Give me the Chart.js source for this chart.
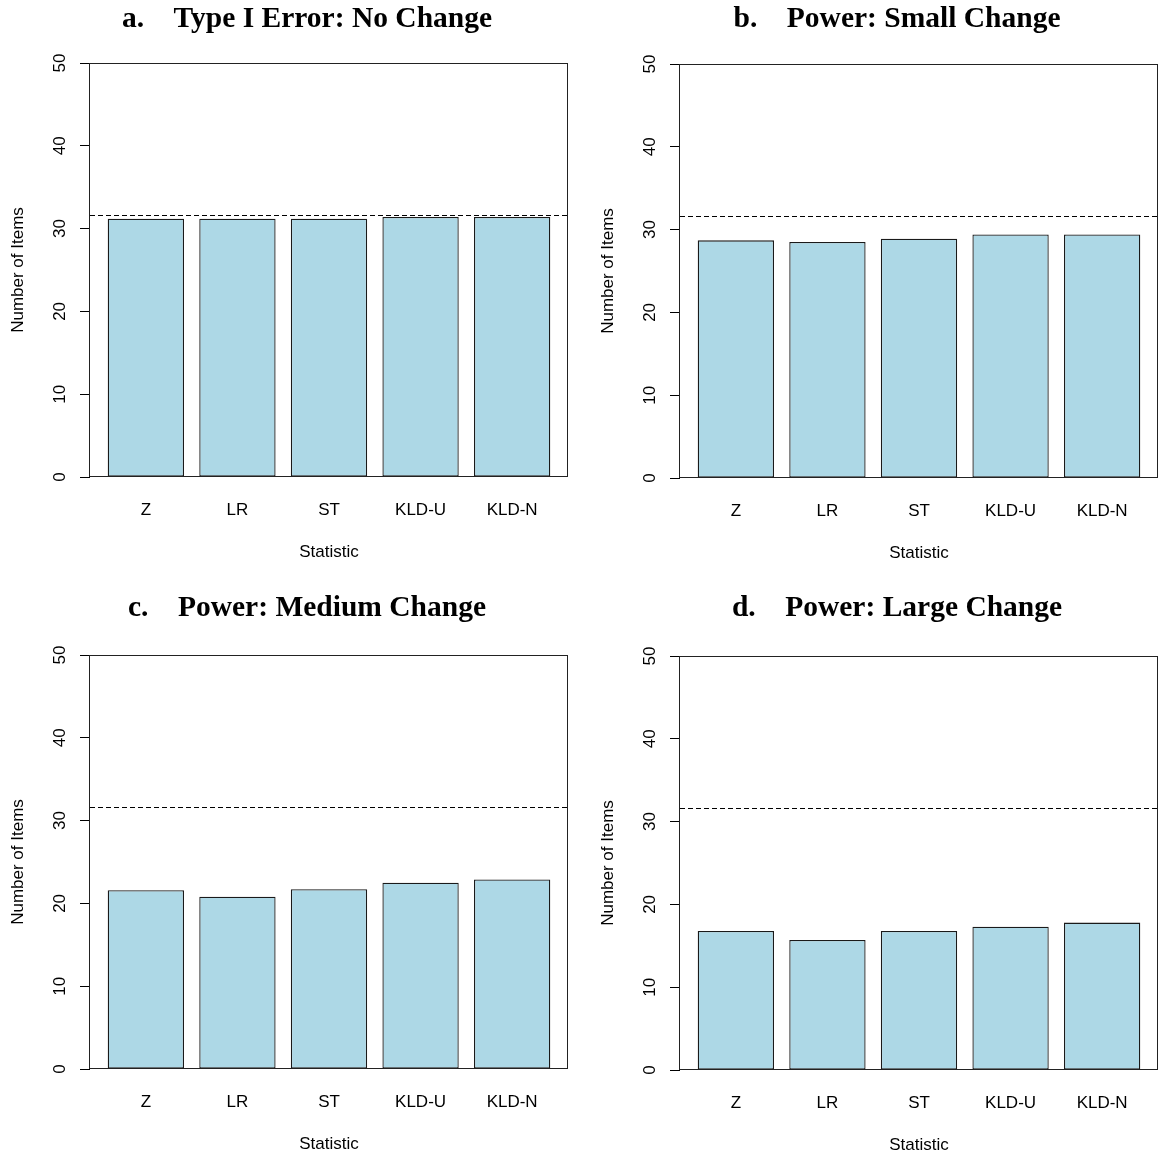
<!DOCTYPE html>
<html><head><meta charset="utf-8">
<script src="https://cdn.jsdelivr.net/npm/chart.js@4.4.0/dist/chart.umd.min.js"></script>
<style>
html,body{margin:0;padding:0;background:#fff;overflow:hidden;width:1160px;height:1158px;}
.p{position:absolute;width:570px;height:580px;}
</style></head><body>
<div class="p" style="left:0px;top:0px"><canvas id="ca"></canvas></div>
<div class="p" style="left:590px;top:1px"><canvas id="cb"></canvas></div>
<div class="p" style="left:0px;top:592px"><canvas id="cc"></canvas></div>
<div class="p" style="left:590px;top:593px"><canvas id="cd"></canvas></div>
<script>
const categories = ['Z', 'LR', 'ST', 'KLD-U', 'KLD-N'];
const typeIErrorNoChange = [31.2, 31.2, 31.2, 31.4, 31.4];
const powerSmallChange = [28.7, 28.5, 28.9, 29.4, 29.4];
const powerMediumChange = [21.6, 20.8, 21.7, 22.5, 22.9];
const powerLargeChange = [16.8, 15.7, 16.8, 17.3, 17.8];
const referenceLine = 31.65;
const yTicks = [0, 10, 20, 30, 40, 50];
const panelTitles = ['a.    Type I Error: No Change', 'b.    Power: Small Change', 'c.    Power: Medium Change', 'd.    Power: Large Change'];
const xTitle = 'Statistic';
const yTitle = 'Number of Items';

const SANS = '"Liberation Sans", Arial, sans-serif';
const SERIF = '"Liberation Serif", "Times New Roman", serif';

function makeChart(id, values, title, titleOffset) {
  const overlay = {
    id: 'overlay_' + id,
    afterDatasetsDraw(chart) {
      const ctx = chart.ctx, a = chart.chartArea, ys = chart.scales.y;
      ctx.save();
      // reference dashed line
      const ry = Math.round(ys.getPixelForValue(referenceLine)) + 0.5;
      ctx.strokeStyle = '#000';
      ctx.lineWidth = 1;
      ctx.setLineDash([5, 3]);
      ctx.beginPath();
      ctx.moveTo(a.left, ry);
      ctx.lineTo(a.right, ry);
      ctx.stroke();
      ctx.setLineDash([]);
      // box
      ctx.strokeStyle = '#222';
      ctx.lineWidth = 1;
      const L = Math.round(a.left) - 0.5, T = Math.round(a.top) + 0.5;
      const R = Math.round(a.right) - 0.5, B = Math.round(a.bottom) - 0.5;
      ctx.strokeRect(L, T, R - L, B - T);
      ctx.restore();
    },
    afterDraw(chart) {
      const ctx = chart.ctx, a = chart.chartArea, ys = chart.scales.y;
      ctx.save();
      ctx.fillStyle = '#000';
      // y tick labels rotated
      ctx.font = '17px ' + SANS;
      ctx.textAlign = 'center';
      ctx.textBaseline = 'alphabetic';
      ys.ticks.forEach(t => {
        const y = ys.getPixelForValue(t.value);
        ctx.save();
        ctx.translate(a.left - 25, y);
        ctx.rotate(-Math.PI / 2);
        ctx.fillText(String(t.value), 0, 0);
        ctx.restore();
      });
      // title
      ctx.font = 'bold 29.5px ' + SERIF;
      ctx.textBaseline = 'middle';
      ctx.fillText(title, (a.left + a.right) / 2 - 22, a.top - titleOffset);
      ctx.restore();
    }
  };
  return new Chart(document.getElementById(id), {
    type: 'bar',
    data: {
      datasets: [{
        data: categories.map((c, i) => ({ x: i, y: values[i] })),
        backgroundColor: '#ADD8E6',
        borderColor: '#1a1a1a',
        borderWidth: 1.3,
        borderSkipped: false,
        categoryPercentage: 1,
        barPercentage: 1 / 1.2
      }]
    },
    options: {
      responsive: true,
      maintainAspectRatio: false,
      devicePixelRatio: 1,
      animation: false,
      layout: { padding: { top: 63, left: 0, right: 2, bottom: 0 } },
      plugins: { legend: { display: false }, tooltip: { enabled: false }, title: { display: false } },
      scales: {
        x: {
          type: 'linear',
          offset: false,
          min: -0.61,
          max: 4.61,
          grid: { display: false, drawTicks: false, offset: false },
          border: { display: false },
          afterBuildTicks(s) { s.ticks = categories.map((c, i) => ({ value: i })); },
          afterFit(s) { s.height = 103; },
          ticks: {
            callback: (v) => categories[v] ?? '',
            font: { family: SANS, size: 17 },
            color: '#000',
            padding: 22.8,
            autoSkip: false,
            maxRotation: 0,
            minRotation: 0
          },
          title: {
            display: true, text: xTitle, color: '#000',
            font: { family: SANS, size: 17 },
            padding: { top: 0, bottom: 17.8 }
          }
        },
        y: {
          min: 0,
          max: 50,
          afterBuildTicks(s) { s.ticks = yTicks.map(v => ({ value: v })); },
          afterFit(s) { s.width = 90; },
          grid: { display: true, drawOnChartArea: false, drawTicks: true, tickLength: 10, color: '#000', lineWidth: 1 },
          border: { display: false },
          ticks: { display: false },
          title: {
            display: true, text: yTitle, color: '#000',
            font: { family: SANS, size: 17 },
            padding: { top: 8, bottom: 0 }
          }
        }
      }
    },
    plugins: [overlay]
  });
}

makeChart('ca', typeIErrorNoChange, panelTitles[0], 44);
makeChart('cb', powerSmallChange, panelTitles[1], 45);
makeChart('cc', powerMediumChange, panelTitles[2], 47);
makeChart('cd', powerLargeChange, panelTitles[3], 48);
</script>
</body></html>
